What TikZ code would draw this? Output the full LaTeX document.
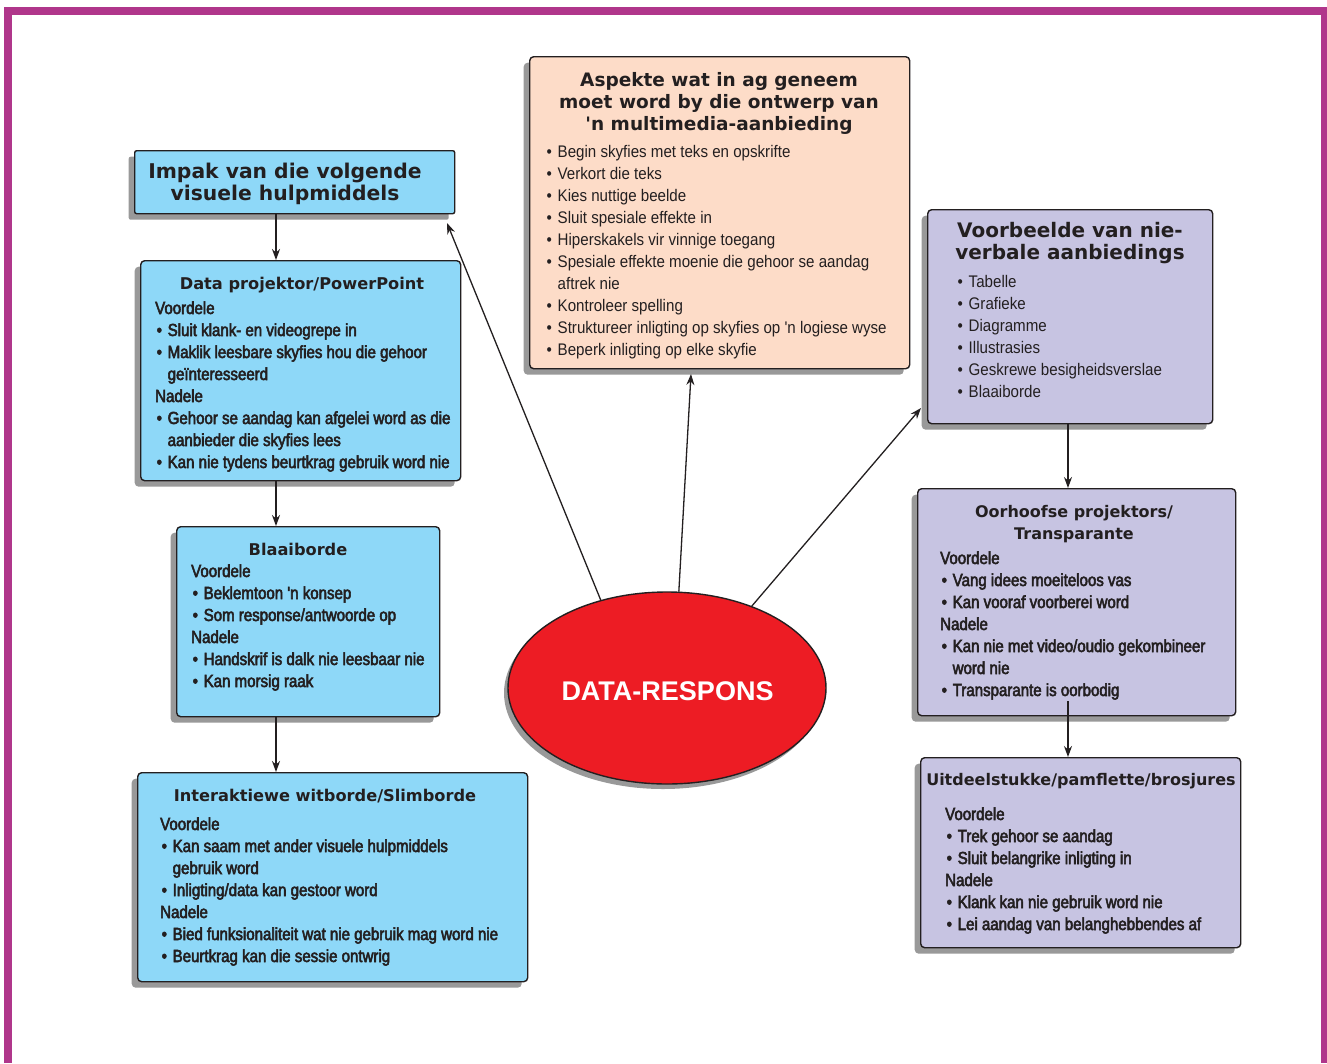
\documentclass[tikz,border=0pt]{standalone}
\usepackage{fontspec}
\setmainfont{Liberation Sans}
\newfontfamily\ttlf[Ligatures=TeXOff]{DejaVu Sans}
\newfontfamily\bodyreg[FakeStretch=0.9,Ligatures=TeXOff]{Liberation Sans}
\newfontfamily\bodymed[FakeStretch=0.86,FakeBold=3,Ligatures=TeXOff]{Liberation Sans}
\newfontfamily\bigf{Liberation Sans}
\usetikzlibrary{shapes.geometric,shadows,arrows.meta}
\definecolor{magc}{HTML}{B0368B}
\definecolor{bluec}{HTML}{8ED8F8}
\definecolor{peachc}{HTML}{FDDCC8}
\definecolor{lavc}{HTML}{C7C4E2}
\definecolor{redc}{HTML}{ED1C24}
\definecolor{textc}{HTML}{231F20}
\newcommand\bl{\hspace*{1.5pt}\makebox[11pt][l]{\textbullet}}
\newcommand\ct{\hspace*{12.5pt}}
\newcommand\txtlines[5]{%
  \foreach \t [count=\i from 0] in {#5}{%
    \node[txt,font=#4] (#1\i) at (#2,{#3+22*\i}) {\t};}}
\tikzset{
  boxbase/.style={draw=textc, line width=1.4pt, rounded corners=4pt, anchor=north west,
    inner sep=0, drop shadow={shadow xshift=-6pt, shadow yshift=-6pt, fill=black!40, opacity=1}},
  bluebox/.style={boxbase, fill=bluec},
  peachbox/.style={boxbase, fill=peachc},
  lavbox/.style={boxbase, fill=lavc},
  txt/.style={anchor=base west, inner sep=0, text=textc},
  ttl/.style={anchor=base, inner sep=0, text=textc},
  bigttl/.style={ttl, font=\ttlf\bfseries\fontsize{20.3}{22}\selectfont},
  subttl/.style={ttl, font=\ttlf\bfseries\fontsize{16.2}{22}\selectfont},
  arr/.style={draw=textc, line width=1.3pt, -{Stealth[length=11pt,width=8pt]}},
}
\newcommand\medf{\bodymed\fontsize{17.5}{22}\selectfont}
\newcommand\regf{\bodyreg\fontsize{16.8}{22}\selectfont}
\begin{document}
\begin{tikzpicture}[x=1pt,y=-1pt]
\useasboundingbox (0,0) rectangle (1327,1063);
\fill[white] (0,0) rectangle (1327,1063);
% frame
\fill[magc] (4,7) rectangle (12,1063);
\fill[magc] (4,7) rectangle (1327,15);
\fill[magc] (1321,7) rectangle (1327,1063);

% boxes
\node[bluebox, rounded corners=2pt, minimum width=320pt, minimum height=63pt] (imp) at (134,150) {};
\node[bluebox, minimum width=320pt, minimum height=220pt] (dp) at (140,260) {};
\node[bluebox, minimum width=263pt, minimum height=190pt] (bl) at (176,526) {};
\node[bluebox, minimum width=390pt, minimum height=209pt] (iw) at (137,772) {};
\node[peachbox, minimum width=380pt, minimum height=312pt] (pe) at (529,56) {};
\node[lavbox, minimum width=285pt, minimum height=214pt] (vb) at (927,209) {};
\node[lavbox, minimum width=318pt, minimum height=227pt] (oo) at (917,488) {};
\node[lavbox, minimum width=320pt, minimum height=190pt] (ui) at (920,757) {};

% central ellipse
\node[ellipse, draw=textc, line width=1.4pt, fill=redc, minimum width=318pt, minimum height=192pt,
  inner sep=0, drop shadow={shadow xshift=-4pt, shadow yshift=-5pt, fill=black!40, opacity=1}] (dr) at (667,688) {};
\node[anchor=base, inner sep=0, text=white, font=\bigf\bfseries\fontsize{27}{30}\selectfont] (drt) at (667.5,700) {DATA-RESPONS};

% titles
\node[bigttl] (impt1) at (285,178) {Impak van die volgende};
\node[bigttl] (impt2) at (285,200) {visuele hulpmiddels};
\node[subttl] (dpt) at (302,289) {Data projektor/PowerPoint};
\node[subttl] (blt) at (298,555) {Blaaiborde};
\node[subttl] (iwt) at (325,801) {Interaktiewe witborde/Slimborde};
\node[ttl, font=\ttlf\bfseries\fontsize{18.5}{22}\selectfont] (pet1) at (719,86) {Aspekte wat in ag geneem};
\node[ttl, font=\ttlf\bfseries\fontsize{18.5}{22}\selectfont] (pet2) at (719,108) {moet word by die ontwerp van};
\node[ttl, font=\ttlf\bfseries\fontsize{18.5}{22}\selectfont] (pet3) at (719,130) {'n multimedia-aanbieding};
\node[ttl, font=\ttlf\bfseries\fontsize{20}{22}\selectfont] (vbt1) at (1070,237) {Voorbeelde van nie-};
\node[ttl, font=\ttlf\bfseries\fontsize{20}{22}\selectfont] (vbt2) at (1070,259) {verbale aanbiedings};
\node[ttl, font=\ttlf\bfseries\fontsize{16}{22}\selectfont] (oot1) at (1074,517) {Oorhoofse projektors/};
\node[ttl, font=\ttlf\bfseries\fontsize{16}{22}\selectfont] (oot2) at (1074,539) {Transparante};
\node[ttl, font=\ttlf\bfseries\fontsize{16}{22}\selectfont] (uit) at (1081,785) {Uitdeelstukke/pamflette/brosjures};

% body texts
\txtlines{dpl}{155}{314}{\medf}{Voordele,
  {\bl Sluit klank- en videogrepe in},
  {\bl Maklik leesbare skyfies hou die gehoor},
  {\ct geïnteresseerd},
  Nadele,
  {\bl Gehoor se aandag kan afgelei word as die},
  {\ct aanbieder die skyfies lees},
  {\bl Kan nie tydens beurtkrag gebruik word nie}}
\txtlines{bll}{191}{577}{\medf}{Voordele,
  {\bl Beklemtoon 'n konsep},
  {\bl Som response/antwoorde op},
  Nadele,
  {\bl Handskrif is dalk nie leesbaar nie},
  {\bl Kan morsig raak}}
\txtlines{iwl}{160}{830}{\medf}{Voordele,
  {\bl Kan saam met ander visuele hulpmiddels},
  {\ct gebruik word},
  {\bl Inligting/data kan gestoor word},
  Nadele,
  {\bl Bied funksionaliteit wat nie gebruik mag word nie},
  {\bl Beurtkrag kan die sessie ontwrig}}
\txtlines{pel}{545}{157}{\regf}{%
  {\bl Begin skyfies met teks en opskrifte},
  {\bl Verkort die teks},
  {\bl Kies nuttige beelde},
  {\bl Sluit spesiale effekte in},
  {\bl Hiperskakels vir vinnige toegang},
  {\bl Spesiale effekte moenie die gehoor se aandag},
  {\ct aftrek nie},
  {\bl Kontroleer spelling},
  {\bl Struktureer inligting op skyfies op 'n logiese wyse},
  {\bl Beperk inligting op elke skyfie}}
\txtlines{vbl}{956}{287}{\regf}{%
  {\bl Tabelle},
  {\bl Grafieke},
  {\bl Diagramme},
  {\bl Illustrasies},
  {\bl Geskrewe besigheidsverslae},
  {\bl Blaaiborde}}
\txtlines{ool}{940}{564}{\medf}{Voordele,
  {\bl Vang idees moeiteloos vas},
  {\bl Kan vooraf voorberei word},
  Nadele,
  {\bl Kan nie met video/oudio gekombineer},
  {\ct word nie},
  {\bl Transparante is oorbodig}}
\txtlines{uil}{945}{820}{\medf}{Voordele,
  {\bl Trek gehoor se aandag},
  {\bl Sluit belangrike inligting in},
  Nadele,
  {\bl Klank kan nie gebruik word nie},
  {\bl Lei aandag van belanghebbendes af}}

% connectors
\coordinate (axL) at (276,0);
\coordinate (axR) at (1068,0);
\coordinate (tImp) at (447,223);
\coordinate (tPe) at (691,374);
\coordinate (tVb) at (921,408);
\draw[arr] (imp.south -| axL) -- (dp.north -| axL);
\draw[arr] (dp.south -| axL) -- (bl.north -| axL);
\draw[arr] (bl.south -| axL) -- (iw.north -| axL);
\draw[arr] (vb.south -| axR) -- (oo.north -| axR);
\draw[arr] ([yshift=15pt]oo.south -| axR) -- (ui.north -| axR);
\draw[arr] (dr.127) -- (tImp);
\draw[arr] (dr.83.6) -- (tPe);
\draw[arr] (dr.44.3) -- (tVb);
\end{tikzpicture}
\end{document}
